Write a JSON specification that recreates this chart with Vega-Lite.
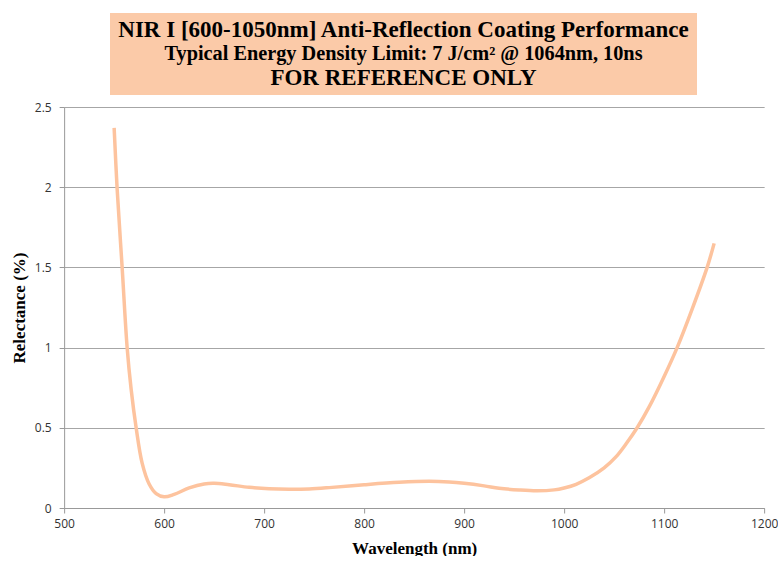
{
  "$schema": "https://vega.github.io/schema/vega-lite/v6.json",
  "background": "white",
  "padding": {"left": 10, "top": 13, "right": 0, "bottom": 0},
  "spacing": 6,
  "center": true,
  "config": {
    "view": {"stroke": null},
    "axis": {"labelFont": "Open Sans", "labelColor": "#333333", "labelFontSize": 12, "titleFont": "Liberation Serif", "titleFontWeight": "bold", "titleColor": "#000000", "titleFontSize": 17}
  },
  "datasets": {
    "titles": [
      {"line": "1", "text": "NIR I [600-1050nm] Anti-Reflection Coating Performance"},
      {"line": "2", "text": "Typical Energy Density Limit: 7 J/cm² @ 1064nm, 10ns"},
      {"line": "3", "text": "FOR REFERENCE ONLY"}
    ],
    "curve": [
      {"wavelength": 550, "reflectance": 2.37},
      {"wavelength": 553, "reflectance": 1.99},
      {"wavelength": 558, "reflectance": 1.5},
      {"wavelength": 563, "reflectance": 1.0},
      {"wavelength": 567, "reflectance": 0.74},
      {"wavelength": 572, "reflectance": 0.5},
      {"wavelength": 578, "reflectance": 0.28},
      {"wavelength": 585, "reflectance": 0.15},
      {"wavelength": 592, "reflectance": 0.09},
      {"wavelength": 600, "reflectance": 0.07},
      {"wavelength": 610, "reflectance": 0.085},
      {"wavelength": 625, "reflectance": 0.125},
      {"wavelength": 640, "reflectance": 0.15},
      {"wavelength": 650, "reflectance": 0.154},
      {"wavelength": 665, "reflectance": 0.145},
      {"wavelength": 685, "reflectance": 0.129},
      {"wavelength": 705, "reflectance": 0.12},
      {"wavelength": 725, "reflectance": 0.117},
      {"wavelength": 745, "reflectance": 0.119},
      {"wavelength": 765, "reflectance": 0.127},
      {"wavelength": 800, "reflectance": 0.145},
      {"wavelength": 835, "reflectance": 0.16},
      {"wavelength": 865, "reflectance": 0.166},
      {"wavelength": 885, "reflectance": 0.162},
      {"wavelength": 900, "reflectance": 0.154},
      {"wavelength": 920, "reflectance": 0.138},
      {"wavelength": 935, "reflectance": 0.123},
      {"wavelength": 955, "reflectance": 0.112},
      {"wavelength": 973, "reflectance": 0.107},
      {"wavelength": 990, "reflectance": 0.113},
      {"wavelength": 1000, "reflectance": 0.125},
      {"wavelength": 1012, "reflectance": 0.148},
      {"wavelength": 1025, "reflectance": 0.188},
      {"wavelength": 1040, "reflectance": 0.25},
      {"wavelength": 1052, "reflectance": 0.32},
      {"wavelength": 1062, "reflectance": 0.4},
      {"wavelength": 1073, "reflectance": 0.5},
      {"wavelength": 1085, "reflectance": 0.63},
      {"wavelength": 1100, "reflectance": 0.82},
      {"wavelength": 1113, "reflectance": 1.0},
      {"wavelength": 1128, "reflectance": 1.24},
      {"wavelength": 1143, "reflectance": 1.5},
      {"wavelength": 1150, "reflectance": 1.65}
    ]
  },
  "vconcat": [
    {
      "spacing": 0,
      "hconcat": [
        {
          "width": 587,
          "height": 82,
          "view": {"fill": "#FBCAA8", "stroke": null},
          "data": {"name": "titles"},
          "encoding": {
            "y": {
              "field": "line",
              "type": "ordinal",
              "scale": {"type": "point", "domain": ["1", "2", "3"], "padding": 0.69},
              "axis": null
            },
            "text": {"field": "text"}
          },
          "layer": [
            {
              "transform": [{"filter": "datum.line != '2'"}],
              "mark": {"type": "text", "font": "Liberation Serif", "fontWeight": "bold", "fontSize": 23, "align": "center", "baseline": "middle", "color": "#000000"}
            },
            {
              "transform": [{"filter": "datum.line == '2'"}],
              "mark": {"type": "text", "font": "Liberation Serif", "fontWeight": "bold", "fontSize": 20.3, "align": "center", "baseline": "middle", "color": "#000000"}
            }
          ]
        },
        {
          "width": 35,
          "height": 82,
          "data": {"values": []},
          "mark": {"type": "point", "opacity": 0}
        }
      ]
    },
    {
      "width": 700,
      "height": 401,
      "data": {"name": "curve"},
      "mark": {"type": "line", "interpolate": "catmull-rom", "color": "#FDC39E", "strokeWidth": 3.5},
      "encoding": {
        "x": {
          "field": "wavelength",
          "type": "quantitative",
          "scale": {"domain": [500, 1200], "nice": false, "zero": false},
          "axis": {"title": "Wavelength (nm)", "values": [500, 600, 700, 800, 900, 1000, 1100, 1200], "format": "d", "grid": false, "labelFlush": false, "domainColor": "#999999", "tickColor": "#999999", "tickSize": 5, "labelPadding": 5, "titlePadding": 11}
        },
        "y": {
          "field": "reflectance",
          "type": "quantitative",
          "scale": {"domain": [0, 2.5], "nice": false},
          "axis": {"title": "Relectance (%)", "values": [0, 0.5, 1, 1.5, 2, 2.5], "labelExpr": "'' + datum.value", "grid": true, "gridColor": "#A6A6A6", "gridWidth": 1.2, "domainColor": "#999999", "tickColor": "#999999", "tickSize": 5, "labelPadding": 8, "titlePadding": 6}
        }
      }
    }
  ]
}
